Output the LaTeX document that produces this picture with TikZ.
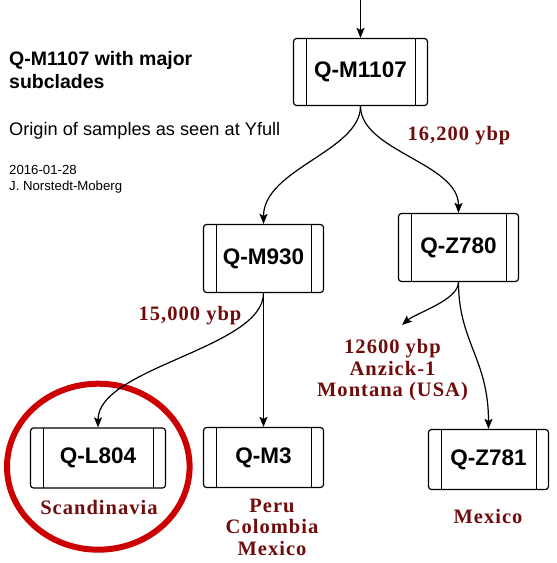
\documentclass[tikz,border=0pt]{standalone}
\usepackage{fontspec}
\setsansfont{Liberation Sans}
\newfontfamily\agefont[LetterSpace=5]{Liberation Serif}
\usetikzlibrary{arrows.meta}
\definecolor{lbl}{RGB}{112,12,12}
\definecolor{ring}{RGB}{204,0,0}
\tikzset{
  clade/.style={draw, line width=1.2pt, rounded corners=3pt, fill=white, inner sep=0pt,
    font=\sffamily\bfseries\fontsize{22.5}{26}\selectfont,
    minimum width=120pt, minimum height=68pt,
    path picture={
      \draw[line width=1pt] ([xshift=12.5pt]path picture bounding box.north west) -- ([xshift=12.5pt]path picture bounding box.south west);
      \draw[line width=1pt] ([xshift=-12pt]path picture bounding box.north east) -- ([xshift=-12pt]path picture bounding box.south east);
    }},
  low/.style={minimum height=60pt},
  conn/.style={line width=1.2pt, -{Stealth[length=10pt,width=8pt,inset=2pt]}},
  age/.style={text=lbl, font=\agefont\bfseries\fontsize{20.5}{21.5}\selectfont, inner sep=0pt, align=center},
}
\begin{document}
\begin{tikzpicture}[x=1pt,y=-1pt]
\fill[white] (0,0) rectangle (557,563);
\useasboundingbox (0,0) rectangle (557,563);

% title texts
\node[anchor=north west, inner sep=0pt, align=left, font=\sffamily\bfseries\fontsize{19.5}{23}\selectfont] (title) at (9,50.8) {Q-M1107 with major\\subclades};
\node[anchor=base west, inner sep=0pt, font=\sffamily\fontsize{18.2}{21}\selectfont] (origin) at (9,135) {Origin of samples as seen at Yfull};
\node[anchor=north west, inner sep=0pt, align=left, font=\sffamily\fontsize{13.2}{15.5}\selectfont] (date) at (9,165.5) {2016-01-28\\J. Norstedt-Moberg};

% red ring
\draw[ring, line width=6pt] (98.3,466.7) ellipse [x radius=91.3pt, y radius=83pt];

% clades
\node[clade, minimum width=134pt, minimum height=67pt] (m1107) at (360.5,72) {Q-M1107};
\node[clade] (m930) at (263.5,258.5) {Q-M930};
\node[clade] (z780) at (458.5,247.5) {Q-Z780};
\node[clade, low, minimum width=135pt] (l804) at (98,458) {Q-L804};
\node[clade, low] (m3) at (263.5,457.5) {Q-M3};
\node[clade, low] (z781) at (488.5,459.5) {Q-Z781};

% connectors
\coordinate (src) at (360.5,-3);
\coordinate (loose) at (402,325);
\draw[conn] (src) -- (m1107.north);
\draw[conn] (m1107.south) .. controls +(0,45) and +(0,-55) .. (m930.north);
\draw[conn] (m1107.south) .. controls +(0,45) and +(0,-50) .. (z780.north);
\draw[conn] (m930.south) .. controls +(0,55) and +(0,-60) .. (l804.north);
\draw[conn] (m930.south) -- (m3.north);
\draw[conn] (z780.south) .. controls +(0,60) and +(0,-70) .. (z781.north);
\draw[conn] (z780.south) .. controls +(0,18) and +(14,-12) .. (loose);

% labels
\node[age, anchor=base] (a16200) at (459,140) {16,200 ybp};
\node[age, anchor=base] (a15000) at (190,320) {15,000 ybp};
\node[age, anchor=north] (anzick) at (392.5,339.5) {12600 ybp\\Anzick-1\\Montana (USA)};
\node[age, anchor=base] (scand) at (99,514) {Scandinavia};
\node[age, anchor=north] (peru) at (272,498.6) {Peru\\Colombia\\Mexico};
\node[age, anchor=base] (mex) at (488,523) {Mexico};
\end{tikzpicture}
\end{document}
